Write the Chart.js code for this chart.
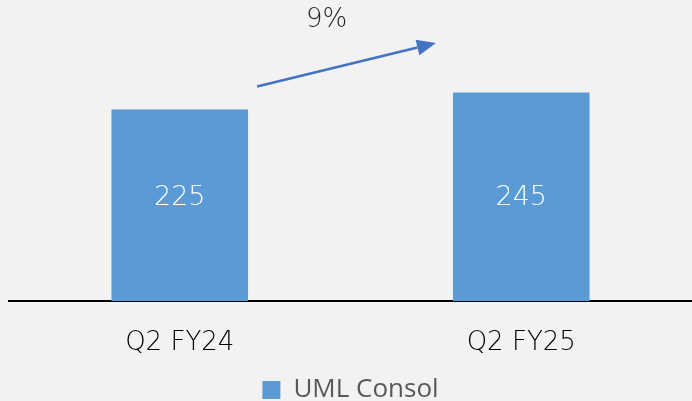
<!DOCTYPE html>
<html>
<head>
<meta charset="utf-8">
<script src="https://cdn.jsdelivr.net/npm/chart.js@4.4.0/dist/chart.umd.min.js"></script>
<style>
html,body{margin:0;padding:0;background:#f2f2f2;}
#wrap{width:692px;height:401px;position:relative;}
</style>
</head>
<body>
<div id="wrap"><canvas id="c" width="692" height="401"></canvas></div>
<script>
const categories = ["Q2 FY24", "Q2 FY25"];
const seriesName = "UML Consol";
const values = [225, 245];
const growthLabel = "9%";

const barColor = "#5b9bd5";
const arrowColor = "#4472c4";

const overlay = {
  id: "overlay",
  afterDatasetsDraw(chart) {
    const ctx = chart.ctx;
    const meta = chart.getDatasetMeta(0);
    const y = chart.scales.y;
    // data labels (centred inside the bars)
    ctx.save();
    ctx.fillStyle = "#ffffff";
    ctx.font = "200 27px 'DejaVu Sans', sans-serif";
    ctx.textAlign = "center";
    ctx.textBaseline = "middle";
    const labelY = y.getPixelForValue(Math.min(...values) / 2 + 8);
    meta.data.forEach((bar, i) => {
      ctx.fillText(String(values[i]), bar.x, labelY);
    });
    // arrow
    const b0 = meta.data[0], b1 = meta.data[1];
    const x0 = b0.x + b0.width / 2 + 9;
    const y0 = y.getPixelForValue(values[0] + 27);
    const x1 = b1.x - b1.width / 2 - 17;
    const y1 = y.getPixelForValue(values[1] + 58);
    const ang = Math.atan2(y1 - y0, x1 - x0);
    const headLen = 19, headW = 8;
    const bx = x1 - headLen * Math.cos(ang), by = y1 - headLen * Math.sin(ang);
    ctx.strokeStyle = arrowColor;
    ctx.fillStyle = arrowColor;
    ctx.lineWidth = 2.5;
    ctx.beginPath();
    ctx.moveTo(x0, y0);
    ctx.lineTo(bx, by);
    ctx.stroke();
    ctx.beginPath();
    ctx.moveTo(x1, y1);
    ctx.lineTo(bx + headW * Math.sin(ang), by - headW * Math.cos(ang));
    ctx.lineTo(bx - headW * Math.sin(ang), by + headW * Math.cos(ang));
    ctx.closePath();
    ctx.fill();
    // growth label
    ctx.fillStyle = "#262626";
    ctx.font = "200 26px 'DejaVu Sans', sans-serif";
    ctx.textAlign = "center";
    ctx.textBaseline = "middle";
    ctx.fillText(growthLabel, (x0 + x1) / 2 - 20, y.getPixelForValue(values[1] + 85));
    ctx.restore();
  }
};

new Chart(document.getElementById("c"), {
  type: "bar",
  data: {
    labels: categories,
    datasets: [{
      label: seriesName,
      data: values,
      backgroundColor: barColor,
      borderWidth: 0,
      categoryPercentage: 0.8,
      barPercentage: 0.5
    }]
  },
  options: {
    responsive: false,
    animation: false,
    layout: { padding: { left: 9, right: 0, top: 3, bottom: -12 } },
    scales: {
      x: {
        grid: { display: false, drawTicks: false },
        border: { display: true, color: "#000000", width: 2 },
        ticks: { color: "#000000", font: { family: "'DejaVu Sans', sans-serif", size: 26, weight: 200, lineHeight: 1.0 }, padding: 29 },
        afterFit(scale) { scale.height = 76; }
      },
      y: {
        display: false,
        min: 0,
        max: 350
      }
    },
    plugins: {
      legend: {
        position: "bottom",
        labels: {
          color: "#595959",
          font: { family: "'Open Sans', sans-serif", size: 26 },
          boxWidth: 18,
          boxHeight: 18,
          padding: 0
        }
      },
      tooltip: { enabled: false }
    }
  },
  plugins: [overlay]
});
</script>
</body>
</html>
